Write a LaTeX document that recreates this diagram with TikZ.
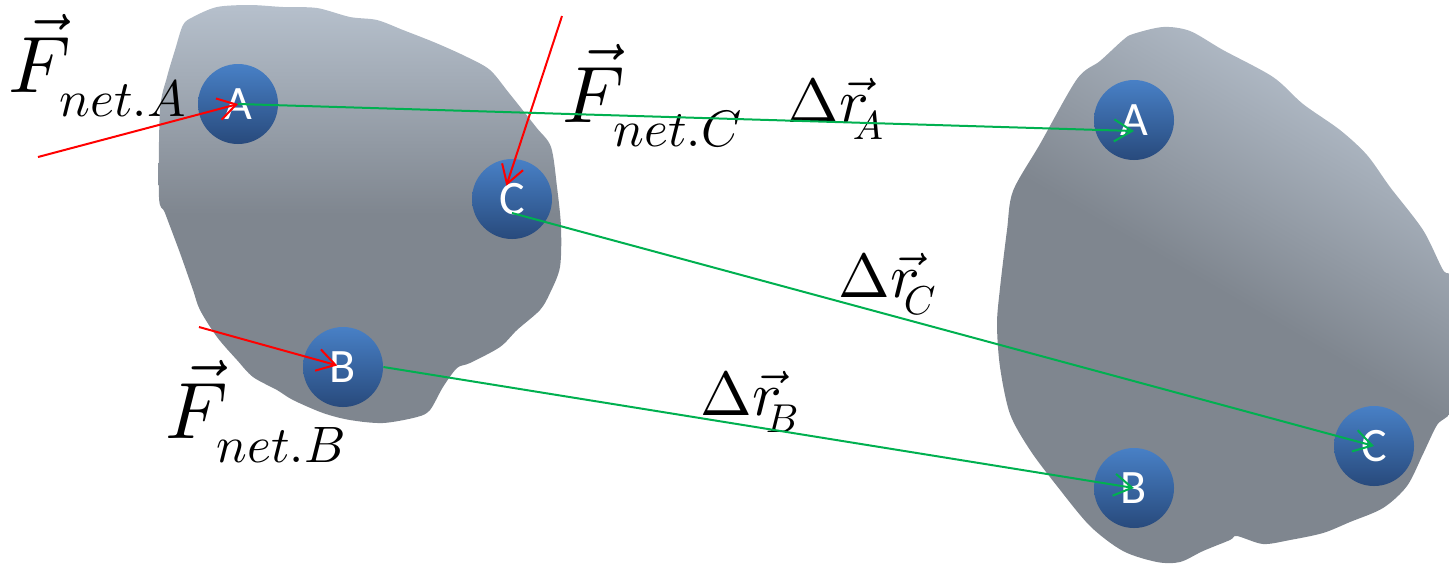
\documentclass[tikz,border=0pt]{standalone}
\usepackage{graphicx}
\usepackage[no-math]{fontspec}
\setsansfont{Carlito}
\usetikzlibrary{arrows.meta, positioning}

\definecolor{bodylight}{RGB}{182,192,204}
\definecolor{bodydark}{RGB}{127,134,143}
\definecolor{balltop}{RGB}{72,128,198}
\definecolor{ballbot}{RGB}{40,74,124}
\definecolor{dispgreen}{RGB}{0,176,80}

\newcommand{\flbl}[1]{\scalebox{4}{$\vec{F}_{\raisebox{-1.6pt}{\scalebox{0.64}{$net.#1$}}}$}}
\newcommand{\rlbl}[1]{\scalebox{3.1}{$\Delta\vec{r}_{\mkern-5mu\raisebox{-1.4pt}{\scalebox{0.65}{$#1$}}}$}}

\begin{document}
\begin{tikzpicture}[x=0.5pt, y=-0.5pt,
  ball/.style={circle, minimum size=40pt, inner sep=0pt, top color=balltop, bottom color=ballbot, text=white, font=\sffamily\fontsize{24}{24}\selectfont},
  force/.style={red, line width=1pt, -{Straight Barb[length=9pt, width=11pt]}},
  disp/.style={dispgreen, line width=1pt, -{Straight Barb[length=9pt, width=11pt]}},
  lbl/.style={anchor=base west, inner sep=0pt}]
\useasboundingbox (0,0) rectangle (1449,564);

% Body before
\shade[top color=bodylight, bottom color=bodydark, middle color=bodydark]
  plot[smooth cycle, tension=0.5] coordinates {(217,7) (250,5) (283,7) (317,8) (350,17) (377,20) (403,30) (436,43) (467,57) (490,70) (509,93) (536,127) (551,147) (557,187) (561,227) (560,267) (550,293) (540,310) (517,330) (500,347) (470,363) (457,368) (443,387) (430,410) (417,417) (383,423) (350,420) (323,413) (293,400) (277,390) (253,377) (237,360) (217,337) (200,310) (193,290) (180,253) (165,213) (159,197) (160,110) (167,77) (175,50) (183,25) (193,17)};

% Body after
\shade[top color=bodylight, bottom color=bodydark, middle color=bodydark, shading angle=-30]
  plot[smooth cycle, tension=0.5] coordinates {(1133,34) (1163,27) (1190,31) (1223,50) (1273,77) (1303,104) (1340,130) (1367,155) (1390,187) (1423,230) (1443,270) (1455,285) (1455,400) (1437,425) (1423,454) (1407,486) (1383,508) (1350,522) (1323,533) (1290,540) (1263,544) (1237,536) (1230,540) (1203,551) (1180,562) (1157,562) (1123,551) (1090,526) (1057,486) (1030,450) (1010,414) (1000,367) (997,324) (1000,288) (1007,230) (1013,191) (1040,144) (1077,79) (1100,61) (1123,40)};

% Particles
\node[ball] (Al) at (238,104) {A};
\node[ball] (Cl) at (512,199) {C};
\node[ball] (Bl) at (343,367) {B};
\node[ball] (Ar) at (1134,120) {A};
\node[ball] (Br) at (1134,488) {B};
\node[ball] (Cr) at (1374,446) {C};

% Labels
\node[lbl] (FA) at (8,92) {\flbl{A}};
\node[lbl] (FC) at (562,122) {\flbl{C}};
\node[lbl] (FB) at (165,438) {\flbl{B}};
\node[lbl] (rA) at (787,122) {\rlbl{A}};
\node[lbl] (rC) at (838,297) {\rlbl{C}};
\node[lbl] (rB) at (700,415) {\rlbl{B}};

% Forces
\coordinate (tA) at (38,157);
\coordinate (tC) at (562,16);
\coordinate (tB) at (199,327);
\draw[force] (tA) -- (Al.center);
\draw[force, shorten >=7pt] (tC) -- ([xshift=-5pt]Cl.center);
\draw[force, shorten >=3pt] (tB) -- (Bl.center);

% Displacements
\draw[disp] (Al.center) -- ([yshift=-5.5pt]Ar.center);
\draw[disp] ([yshift=-7pt]Cl.center) -- (Cr.center);
\draw[disp] (Bl.east) -- (Br.center);
\end{tikzpicture}
\end{document}
